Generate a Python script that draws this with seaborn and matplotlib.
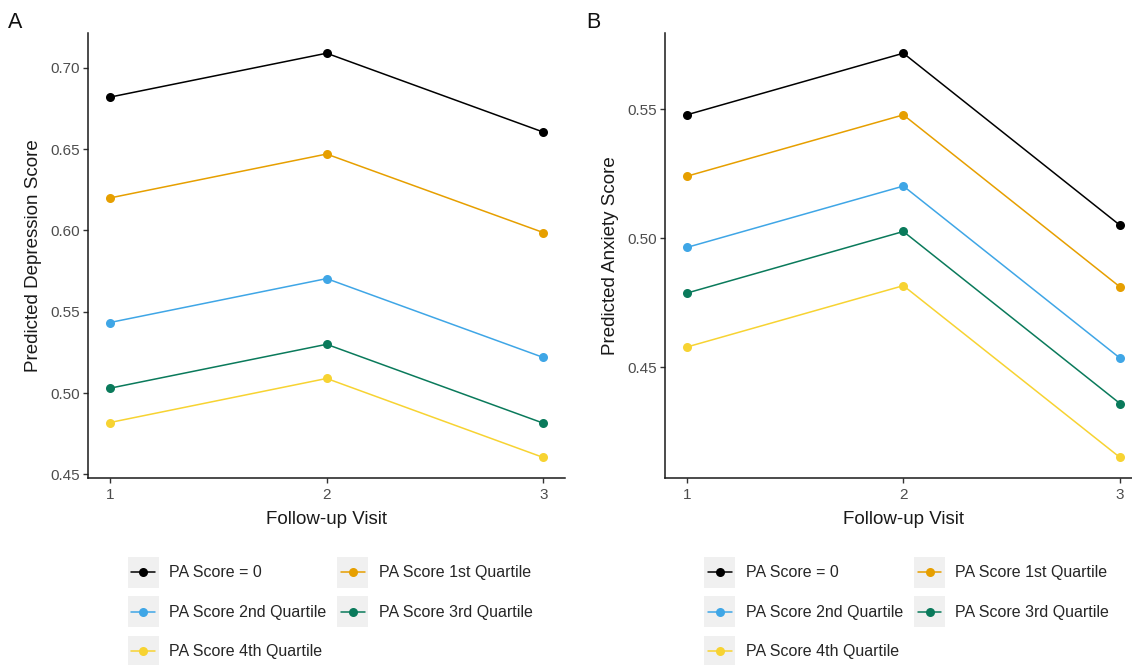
import numpy as np
import pandas as pd
import matplotlib
matplotlib.use("Agg")
import matplotlib.pyplot as plt
import seaborn as sns
from matplotlib.legend_handler import HandlerBase
from matplotlib.patches import Rectangle
from matplotlib.lines import Line2D

# ---------------- data ----------------
visits = [1, 2, 3]
groups = ["PA Score = 0", "PA Score 1st Quartile", "PA Score 2nd Quartile",
          "PA Score 3rd Quartile", "PA Score 4th Quartile"]
colors = ["#000000", "#E69F00", "#3FA6E6", "#0A7A5B", "#F7D332"]

dep_pa0 = [0.682, 0.709, 0.6605]
dep_q1 = [0.620, 0.647, 0.5987]
dep_q2 = [0.5434, 0.5704, 0.5219]
dep_q3 = [0.503, 0.530, 0.4815]
dep_q4 = [0.4819, 0.509, 0.4604]

anx_pa0 = [0.5478, 0.5717, 0.505]
anx_q1 = [0.524, 0.5478, 0.4811]
anx_q2 = [0.4964, 0.5202, 0.4535]
anx_q3 = [0.4787, 0.5026, 0.4359]
anx_q4 = [0.4578, 0.4816, 0.415]

dep_ticks = [0.45, 0.50, 0.55, 0.60, 0.65, 0.70]
anx_ticks = [0.45, 0.50, 0.55]
x_ticks = [1, 2, 3]

panel_letters = ["A", "B"]
y_titles = ["Predicted Depression Score", "Predicted Anxiety Score"]
x_title = "Follow-up Visit"


def long_df(series):
    rows = []
    for g, vals in zip(groups, series):
        for v, s in zip(visits, vals):
            rows.append({"visit": v, "score": s, "group": g})
    return pd.DataFrame(rows)


df_dep = long_df([dep_pa0, dep_q1, dep_q2, dep_q3, dep_q4])
df_anx = long_df([anx_pa0, anx_q1, anx_q2, anx_q3, anx_q4])

# ---------------- style ----------------
sns.set_style("ticks")
plt.rcParams["font.family"] = ["Liberation Sans", "DejaVu Sans"]

palette = dict(zip(groups, colors))
LW = 1.1
MS = 6.5

W, H = 1132, 665
fig = plt.figure(figsize=(W / 100, H / 100), dpi=100)

ax_w = 476.7 / W
ax_h = (477.7 - 33) / H
ax_b = 1 - 477.7 / H
axA = fig.add_axes([88.3 / W, ax_b, ax_w, ax_h])
axB = fig.add_axes([665.0 / W, ax_b, ax_w, ax_h])


class KeyHandler(HandlerBase):
    def create_artists(self, legend, orig_handle, xdescent, ydescent,
                       width, height, fontsize, trans):
        c = orig_handle.get_color()
        x0, y0 = -xdescent, -ydescent
        bg = Rectangle((x0, y0), width, height, facecolor="#F0F0F0",
                       edgecolor="none", transform=trans)
        yc = y0 + height / 2
        ln = Line2D([x0 + 0.12 * width, x0 + 0.88 * width], [yc, yc],
                    color=c, lw=LW, transform=trans)
        dot = Line2D([x0 + width / 2], [yc], marker="o", ms=MS,
                     markeredgewidth=0, color=c, linestyle="none",
                     transform=trans)
        return [bg, ln, dot]


for ax, df, ticks, ytitle, letter, lx, legx in [
    (axA, df_dep, dep_ticks, y_titles[0], panel_letters[0], 8, 127.7),
    (axB, df_anx, anx_ticks, y_titles[1], panel_letters[1], 586, 704.3),
]:
    sns.lineplot(data=df, x="visit", y="score", hue="group",
                 hue_order=groups, palette=palette, marker="o",
                 markersize=MS, markeredgewidth=0, linewidth=LW,
                 errorbar=None, legend=False, ax=ax)
    lo, hi = df["score"].min(), df["score"].max()
    r = hi - lo
    ax.set_ylim(lo - 0.05 * r, hi + 0.05 * r)
    ax.set_xlim(min(visits) - 0.05 * 2, max(visits) + 0.05 * 2)
    ax.set_xticks(x_ticks)
    ax.set_xticklabels([str(t) for t in x_ticks])
    ax.set_yticks(ticks)
    ax.set_yticklabels([f"{t:.2f}" for t in ticks])
    ax.tick_params(axis="both", direction="out", length=3.5, width=1.0,
                   color="#333333", labelcolor="#4D4D4D", labelsize=11,
                   pad=2.5)
    ax.tick_params(axis="x", pad=4)
    for s in ["top", "right"]:
        ax.spines[s].set_visible(False)
    for s in ["left", "bottom"]:
        ax.spines[s].set_linewidth(1.1)
        ax.spines[s].set_color("#1A1A1A")
    ax.set_xlabel(x_title, fontsize=13.5, color="#1A1A1A", labelpad=6.5)
    ax.set_ylabel(ytitle, fontsize=13.5, color="#1A1A1A", labelpad=6)
    ax.grid(False)

    fig.text(lx / W, 1 - 22.5 / H, letter, fontsize=15.5, va="center",
             ha="left", color="#111111")

    handles = [Line2D([], [], color=c) for c in colors]
    order = [0, 2, 4, 1, 3]
    fig.legend([handles[i] for i in order], [groups[i] for i in order],
               handler_map={Line2D: KeyHandler()},
               ncol=2, loc="upper left",
               bbox_to_anchor=(legx / W, 1 - 556.7 / H),
               bbox_transform=fig.transFigure, frameon=False,
               fontsize=11.5, handlelength=1.95, handleheight=2.61,
               handletextpad=0.63, columnspacing=0.7, labelspacing=0.53,
               borderpad=0, borderaxespad=0)

fig.savefig("out.png", dpi=100)
